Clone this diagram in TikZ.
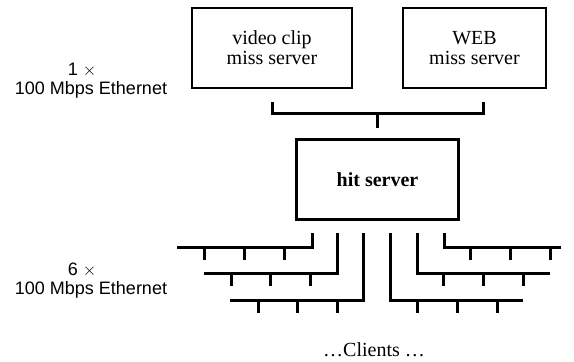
\documentclass[tikz,border=0pt]{standalone}
\usepackage{fontspec}
\setmainfont{Liberation Serif}
\newfontfamily\labelfont{Liberation Sans}
\usetikzlibrary{calc}

\tikzset{
  server/.style={draw, line width=2.5pt, align=center, inner sep=0pt,
    font=\fontsize{20}{20}\selectfont},
  hitbox/.style={server, line width=3pt, font=\fontsize{20}{20}\selectfont\bfseries},
  wire/.style={line width=3pt},
  netlabel/.style={font=\labelfont\fontsize{18}{19}\selectfont, inner sep=0pt},
  caption/.style={font=\fontsize{20}{20}\selectfont, inner sep=0pt}
}

% one Ethernet segment: name, riser x, bus y, far end x, three client drop offsets
\newcommand{\ethbus}[7]{%
  \coordinate (r#1) at (#2,233);
  \coordinate (b#1) at (#2,#3);
  \coordinate (e#1) at (#4,#3);
  \draw[wire] (r#1) -- (b#1) -- (e#1);
  \draw[wire] ($(b#1)+(#5,0)$) -- ++(0,13);
  \draw[wire] ($(b#1)+(#6,0)$) -- ++(0,13);
  \draw[wire] ($(b#1)+(#7,0)$) -- ++(0,13);
}

\begin{document}
\begin{tikzpicture}[x=1pt, y=-1pt]
  \useasboundingbox (0,0) rectangle (574,362);

  % miss servers
  \node[server, minimum width=160pt, minimum height=80pt] (vc) at (272,48)
    {video clip\\miss server};
  \node[server, minimum width=143pt, minimum height=80pt] (web) at (474.5,48)
    {WEB\\miss server};

  % hit server
  \node[hitbox, minimum width=162pt, minimum height=80pt] (hit) at (377.5,179.5)
    {hit server};

  % single Ethernet joining the miss servers to the hit server
  \coordinate (bl) at (272,102);
  \coordinate (br) at (483,102);
  \coordinate (sj) at (377,113);
  \coordinate (st) at (377,128);
  \draw[wire] (bl) |- (sj) -| (br);
  \draw[wire] (sj) -- (st);

  % six Ethernet segments towards the clients
  \ethbus{1}{312}{247}{177}{-28}{-68}{-108}
  \ethbus{2}{337}{273}{204}{-27}{-67}{-106}
  \ethbus{3}{363}{300}{230}{-26}{-66}{-105}
  \ethbus{4}{390}{300}{523}{27}{67}{107}
  \ethbus{5}{417}{273}{550}{26}{66}{106}
  \ethbus{6}{444}{247}{561}{26}{66}{106}

  % link labels
  \node[netlabel] (l1a) at (82,70) {1 $\times$};
  \node[netlabel] (l1b) at (91,90) {100 Mbps Ethernet};
  \node[netlabel] (l6a) at (82,270) {6 $\times$};
  \node[netlabel] (l6b) at (91,290) {100 Mbps Ethernet};

  \node[caption] (cl) at (374,350) {\ldots{}Clients \ldots};
\end{tikzpicture}
\end{document}
